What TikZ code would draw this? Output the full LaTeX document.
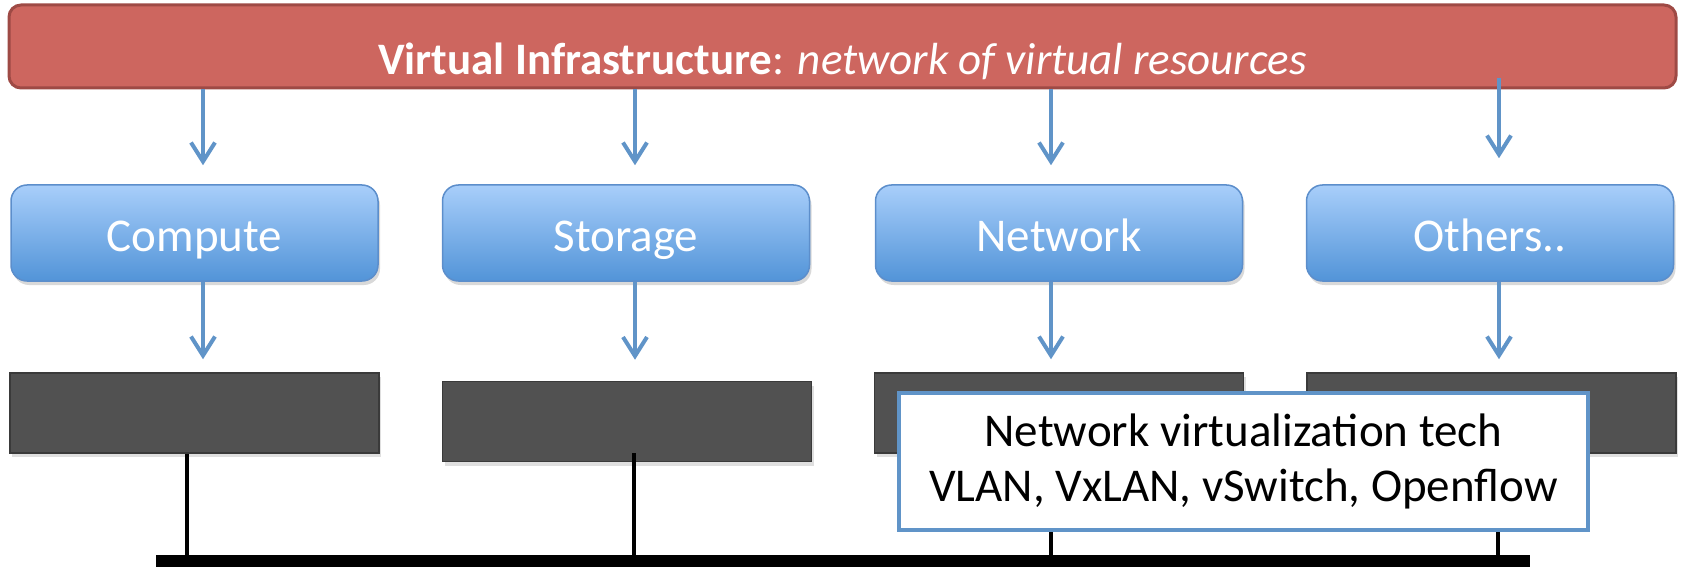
\documentclass[tikz,border=0pt]{standalone}
\usepackage{fontspec}
\setmainfont{Carlito}
\usepackage{tikz}
\usetikzlibrary{calc, positioning, arrows.meta, shadows}

\definecolor{barred}{RGB}{205,102,95}
\definecolor{barredline}{RGB}{158,74,69}
\definecolor{arrblue}{RGB}{96,148,200}
\definecolor{boxtop}{RGB}{168,206,250}
\definecolor{boxbot}{RGB}{82,148,216}
\definecolor{boxline}{RGB}{92,142,203}
\definecolor{hostgray}{RGB}{81,81,81}
\definecolor{hostline}{RGB}{58,58,58}

\begin{document}
\begin{tikzpicture}[x=0.5pt,y=-0.5pt,
	vbar/.style={draw=barredline, line width=1.5pt, fill=barred, rounded corners=6pt,
		minimum width=833.5pt, minimum height=41.5pt, inner sep=0pt, text=white,
		text height=28.5pt, text depth=0pt,
		font=\fontsize{22.5}{27}\selectfont},
	resbox/.style={draw=boxline, line width=0.75pt, top color=boxtop, bottom color=boxbot,
		rounded corners=8pt, minimum width=183.5pt, minimum height=48pt, inner sep=0pt,
		text=white, text height=18pt, text depth=0pt, font=\fontsize{23.5}{28}\selectfont,
		drop shadow={shadow xshift=1pt, shadow yshift=-2pt, opacity=0.3}},
	hostbox/.style={draw=hostline, line width=0.75pt, fill=hostgray,
		minimum width=184.5pt, minimum height=40pt, inner sep=0pt,
		drop shadow={shadow xshift=1pt, shadow yshift=-2pt, opacity=0.25}},
	techbox/.style={draw=arrblue, line width=2pt, fill=white, align=center,
		minimum width=344.5pt, minimum height=68.5pt, inner sep=0pt,
		font=\fontsize{23.5}{27.5}\selectfont},
	arr/.style={draw=arrblue, line width=2pt, -{Straight Barb[length=9.5pt,width=12pt]}},
	link/.style={draw=black, line width=1.75pt}
]
	\useasboundingbox (0,0) rectangle (1683,567);

	%Shape: Rectangle [virtual infrastructure]
	\node [vbar] (vi) at (842.5,46.5) {\textbf{Virtual Infrastructure}: \textit{network of virtual resources}};

	%Shape: Rounded Rectangles [resources]
	\node [resbox] (compute) at (194.5,233) {Compute};
	\node [resbox] (storage) at (626,233) {Storage};
	\node [resbox] (network) at (1059,233) {Network};
	\node [resbox] (others) at (1490,233) {Others..};

	%Shape: Rectangles [hosts]
	\node [hostbox] (chost) at (194.5,413) {};
	\node [hostbox] (shost) at (627,421.5) {};
	\node [hostbox] (nhost) at (1059,413) {};
	\node [hostbox] (ohost) at (1491.5,413) {};

	%Straight Lines [bar to resources]
	\draw [arr] ($(vi.south -| compute.north)+(8.5,0)$) -- ($(compute.north)+(8.5,-19)$);
	\draw [arr] ($(vi.south -| storage.north)+(9,0)$) -- ($(storage.north)+(9,-19)$);
	\draw [arr] ($(vi.south -| network.north)+(-8,0)$) -- ($(network.north)+(-8,-19)$);
	\draw [arr] ($(vi.south -| others.north)+(9,-11)$) -- ($(others.north)+(9,-26)$);

	%Straight Lines [resources to hosts]
	\draw [arr] ($(compute.south)+(8.5,0)$) -- ($(chost.north -| compute.south)+(8.5,-13)$);
	\draw [arr] ($(storage.south)+(9,0)$) -- ($(shost.north -| storage.south)+(9,-21)$);
	\draw [arr] ($(network.south)+(-8,0)$) -- ($(nhost.north -| network.south)+(-8,-13)$);
	\draw [arr] ($(others.south)+(9,0)$) -- ($(ohost.north -| others.south)+(9,-13)$);

	%Shape: Rectangle [bus]
	\node [fill=black, minimum width=687pt, minimum height=6pt, inner sep=0pt] (bus) at (843,561) {};

	%Straight Lines [hosts to bus]
	\draw [link] ($(chost.south)+(-7.5,0)$) -- ($(chost.south |- bus.north)+(-7.5,0)$);
	\draw [link] ($(shost.south)+(7,-9)$) -- ($(shost.south |- bus.north)+(7,0)$);
	\draw [link] ($(nhost.south)+(-8,0)$) -- ($(nhost.south |- bus.north)+(-8,0)$);
	\draw [link] ($(ohost.south)+(6.5,0)$) -- ($(ohost.south |- bus.north)+(6.5,0)$);

	% Text Node
	\node [techbox] (nettech) at (1243.5,461.5) {Network virtualization tech\\VLAN, VxLAN, vSwitch, Openflow};

\end{tikzpicture}
\end{document}
